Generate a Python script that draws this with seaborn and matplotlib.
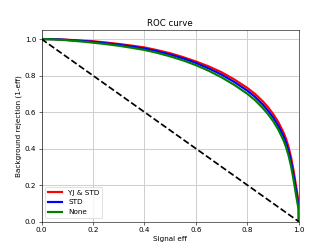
import numpy as np
import pandas as pd
import matplotlib
matplotlib.use("Agg")
import matplotlib.pyplot as plt
import seaborn as sns

# signal efficiency grid and background rejection per preprocessing
sig_eff = [0.0, 0.05, 0.1, 0.15, 0.2, 0.25, 0.3, 0.35, 0.4, 0.45, 0.5, 0.55, 0.6, 0.65, 0.7, 0.75,
           0.8, 0.83, 0.86, 0.88, 0.9, 0.92, 0.94, 0.95, 0.96, 0.97, 0.98, 0.99, 0.995, 1.0, 1.0]
rej_yj_std = [1.0, 0.999, 0.996, 0.992, 0.988, 0.981, 0.973, 0.964, 0.954, 0.939, 0.922, 0.901, 0.877, 0.85,
              0.818, 0.778, 0.732, 0.699, 0.659, 0.627, 0.59, 0.546, 0.49, 0.455, 0.41, 0.352, 0.277, 0.19,
              0.145, 0.09, 0.0]
rej_std = [1.0, 0.999, 0.995, 0.990, 0.985, 0.977, 0.969, 0.959, 0.948, 0.933, 0.915, 0.894, 0.869, 0.839,
           0.805, 0.764, 0.717, 0.683, 0.641, 0.608, 0.571, 0.526, 0.469, 0.433, 0.387, 0.328, 0.252, 0.165,
           0.122, 0.075, 0.0]
rej_none = [1.0, 0.998, 0.993, 0.987, 0.980, 0.972, 0.963, 0.952, 0.940, 0.924, 0.905, 0.883, 0.857, 0.826,
            0.79, 0.748, 0.70, 0.665, 0.622, 0.589, 0.551, 0.505, 0.447, 0.41, 0.363, 0.303, 0.226, 0.14,
            0.1, 0.06, 0.0]
random_x = [0.0, 1.0]
random_y = [1.0, 0.0]

labels = ["YJ & STD", "STD", "None"]
colors = ["red", "blue", "green"]

fig, ax = plt.subplots(figsize=(6.4, 4.8), dpi=51.875)

for lab, rej, col in zip(labels, [rej_yj_std, rej_std, rej_none], colors):
    sns.lineplot(x=sig_eff, y=rej, color=col, lw=3, label=lab, ax=ax,
                 estimator=None, sort=False)

sns.lineplot(x=random_x, y=random_y, color="black", lw=2.4, ls="--", ax=ax,
             estimator=None, sort=False)

ax.set_xlim(0, 1)
ax.set_ylim(0, 1.05)
ax.set_title("ROC curve")
ax.set_xlabel("Signal eff")
ax.set_ylabel("Background rejection (1-eff)")
ax.grid(True, color="#d0d0d0", lw=1.4)
ax.legend(loc="lower left")

plt.savefig("out.png", dpi=51.875)
plt.close()
